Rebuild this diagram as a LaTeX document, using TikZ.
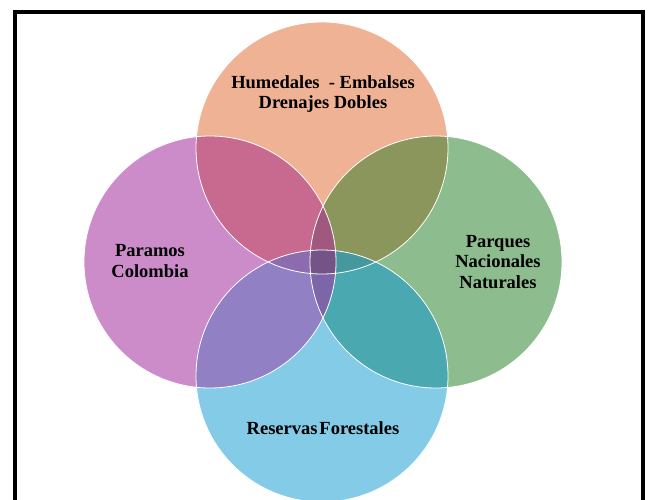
\documentclass[tikz,border=0pt]{standalone}
\usepackage{fontspec}
\setmainfont{Liberation Serif}
\definecolor{cT}{HTML}{F0B294}
\definecolor{cL}{HTML}{CC8CCA}
\definecolor{cR}{HTML}{8DBC8E}
\definecolor{cB}{HTML}{84CBE7}
\definecolor{cTL}{HTML}{C8698F}
\definecolor{cTR}{HTML}{8A965B}
\definecolor{cLB}{HTML}{9280C4}
\definecolor{cRB}{HTML}{4AA8B0}
\definecolor{cTLR}{HTML}{A0587E}
\definecolor{cTLB}{HTML}{8C6CAE}
\definecolor{cTRB}{HTML}{44989E}
\definecolor{cLRB}{HTML}{7C66A8}
\definecolor{cAll}{HTML}{745486}
\begin{document}
\begin{tikzpicture}[x=1pt,y=-1pt,
  lbl/.style={align=center,font=\fontsize{18.5}{20.5}\selectfont\bfseries,text=black,inner sep=0pt},
  rim/.style={draw=white,line width=0.8pt}]
\useasboundingbox (0,0) rectangle (651,499);
\clip (0,0) rectangle (651,499);
\fill[white] (0,0) rectangle (651,499);
\def\pT{(322,148) circle[radius=126pt]}
\def\pL{(210,262) circle[radius=126pt]}
\def\pR{(436,262) circle[radius=126pt]}
\def\pB{(322,376) circle[radius=126pt]}
% single circles
\fill[cT] \pT;
\fill[cR] \pR;
\fill[cB] \pB;
\fill[cL] \pL;
% pair overlaps
\begin{scope}\clip \pT; \fill[cTL] \pL; \end{scope}
\begin{scope}\clip \pT; \fill[cTR] \pR; \end{scope}
\begin{scope}\clip \pL; \fill[cLB] \pB; \end{scope}
\begin{scope}\clip \pR; \fill[cRB] \pB; \end{scope}
% triple overlaps
\begin{scope}\clip \pT; \clip \pL; \fill[cTLR] \pR; \end{scope}
\begin{scope}\clip \pT; \clip \pL; \fill[cTLB] \pB; \end{scope}
\begin{scope}\clip \pT; \clip \pR; \fill[cTRB] \pB; \end{scope}
\begin{scope}\clip \pL; \clip \pR; \fill[cLRB] \pB; \end{scope}
% quadruple overlap
\begin{scope}\clip \pT; \clip \pL; \clip \pR; \fill[cAll] \pB; \end{scope}
% white rims
\draw[rim] \pT; \draw[rim] \pR; \draw[rim] \pB; \draw[rim] \pL;
% labels
\node[lbl] (hum) at (323,94) {Humedales\ \ - Embalses\\Drenajes Dobles};
\node[lbl] (par) at (150,261) {Paramos\\Colombia};
\node[lbl] (pnn) at (498,262) {Parques\\Nacionales\\Naturales};
\node[lbl] (res) at (323,428) {Reservas\hspace{0.1em}Forestales};
% frame
\draw[line width=4pt] (15,520) -- (15,12) -- (643,12) -- (643,520);
\end{tikzpicture}
\end{document}
